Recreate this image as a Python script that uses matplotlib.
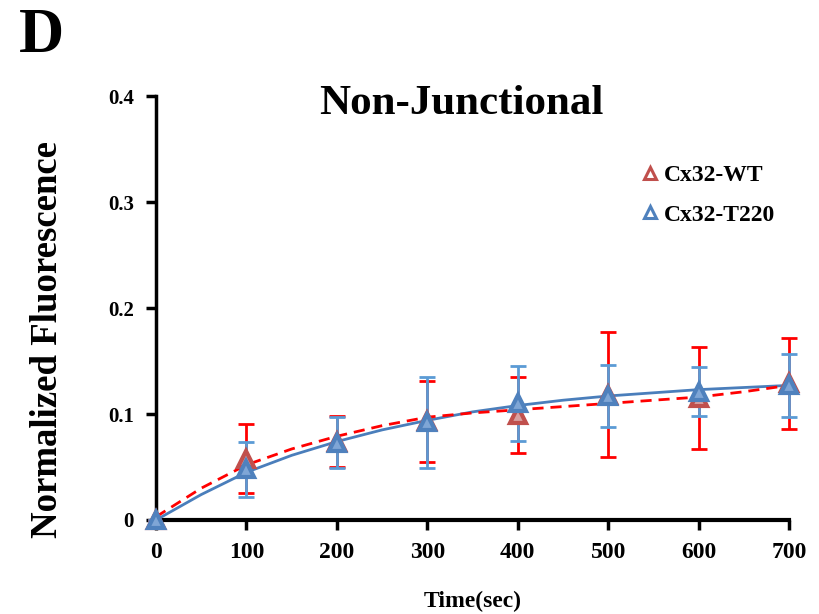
import matplotlib
matplotlib.use("Agg")
import matplotlib.pyplot as plt

plt.rcParams['font.family'] = ['Liberation Serif', 'DejaVu Serif']
plt.rcParams['font.weight'] = 'bold'

time = [0, 100, 200, 300, 400, 500, 600, 700]
wt_mean = [0.0, 0.058, 0.074, 0.093, 0.099, 0.118, 0.115, 0.129]
wt_err = [0.0, 0.033, 0.024, 0.038, 0.036, 0.059, 0.048, 0.043]
t220_mean = [0.0, 0.048, 0.073, 0.092, 0.110, 0.117, 0.121, 0.127]
t220_err = [0.0, 0.026, 0.024, 0.043, 0.035, 0.029, 0.023, 0.030]

fit_time = [0, 50, 100, 150, 200, 250, 300, 350, 400, 450, 500, 550, 600, 650, 700]
wt_fit = [0.003, 0.030, 0.052, 0.067, 0.079, 0.089, 0.097, 0.101, 0.104, 0.107,
          0.110, 0.113, 0.116, 0.121, 0.127]
t220_fit = [0.0, 0.024, 0.045, 0.061, 0.074, 0.085, 0.094, 0.102, 0.108, 0.113,
            0.117, 0.120, 0.123, 0.125, 0.127]

labels = ['Cx32-WT', 'Cx32-T220']
xticks = [0, 100, 200, 300, 400, 500, 600, 700]
yticks = [0, 0.1, 0.2, 0.3, 0.4]
yticklabels = ['0', '0.1', '0.2', '0.3', '0.4']

fig = plt.figure(figsize=(8.19, 6.14), dpi=100)
ax = fig.add_axes([0.1905, 0.1531, 0.7729, 0.6905])

red_line = '#FF0000'
red_mark = '#C0504D'
blue_line = '#4A7EBB'
blue_err = '#5B9BD5'

# fitted curves
ax.plot(fit_time, t220_fit, color=blue_line, lw=2, zorder=3)
ax.plot(fit_time, wt_fit, color=red_line, lw=2, ls=(0, (4, 2.5)), zorder=4)

# error bars
ax.errorbar(time, wt_mean, yerr=wt_err, fmt='none', ecolor=red_line, elinewidth=2,
            capsize=6, capthick=2, zorder=2, clip_on=False)
ax.errorbar(time, t220_mean, yerr=t220_err, fmt='none', ecolor=blue_err, elinewidth=2,
            capsize=6, capthick=2, zorder=2.5, clip_on=False)

# markers
ax.plot(time, wt_mean, ls='none', marker='^', ms=12, mfc='#D8A0A0', mec=red_mark,
        mew=3, zorder=5, clip_on=False, label=labels[0])
ax.plot(time, t220_mean, ls='none', marker='^', ms=12, mfc='#7FA6D6', mec='#4F81BD',
        mew=3, zorder=6, clip_on=False, label=labels[1])

ax.set_xlim(0, 700)
ax.set_ylim(0, 0.4)
ax.set_xticks(xticks)
ax.set_xticklabels([str(v) for v in xticks])
ax.set_yticks(yticks)
ax.set_yticklabels(yticklabels)

for s in ['top', 'right']:
    ax.spines[s].set_visible(False)
ax.spines['left'].set_linewidth(2.5)
ax.spines['bottom'].set_linewidth(3)
ax.tick_params(axis='both', direction='out', width=2.5, length=7)
ax.tick_params(axis='x', labelsize=17, pad=9)
ax.tick_params(axis='y', labelsize=15, pad=9)
for lab in ax.get_xticklabels() + ax.get_yticklabels():
    lab.set_fontweight('bold')

ax.set_xlabel('Time(sec)', fontsize=17, fontweight='bold', labelpad=20)
ax.set_ylabel('Normalized Fluorescence', fontsize=26.5, fontweight='bold')
ax.yaxis.set_label_coords(-0.144, 0.425)

ax.text(0.483, 1.025, 'Non-Junctional', transform=ax.transAxes, ha='center', va='top',
        fontsize=31, fontweight='bold')
fig.text(0.023, 0.987, 'D', fontsize=45, fontweight='bold', ha='left', va='top')

leg = ax.legend(loc='upper right', bbox_to_anchor=(1.012, 0.888), frameon=False,
                handlelength=0.6, handletextpad=0.3, markerscale=1.0,
                labelspacing=0.75, prop={'weight': 'bold', 'size': 17})
for h in leg.legend_handles:
    h.set_markerfacecolor('white')
    h.set_markersize(8)
    h.set_markeredgewidth(2.2)

fig.savefig('out.png', dpi=100)
